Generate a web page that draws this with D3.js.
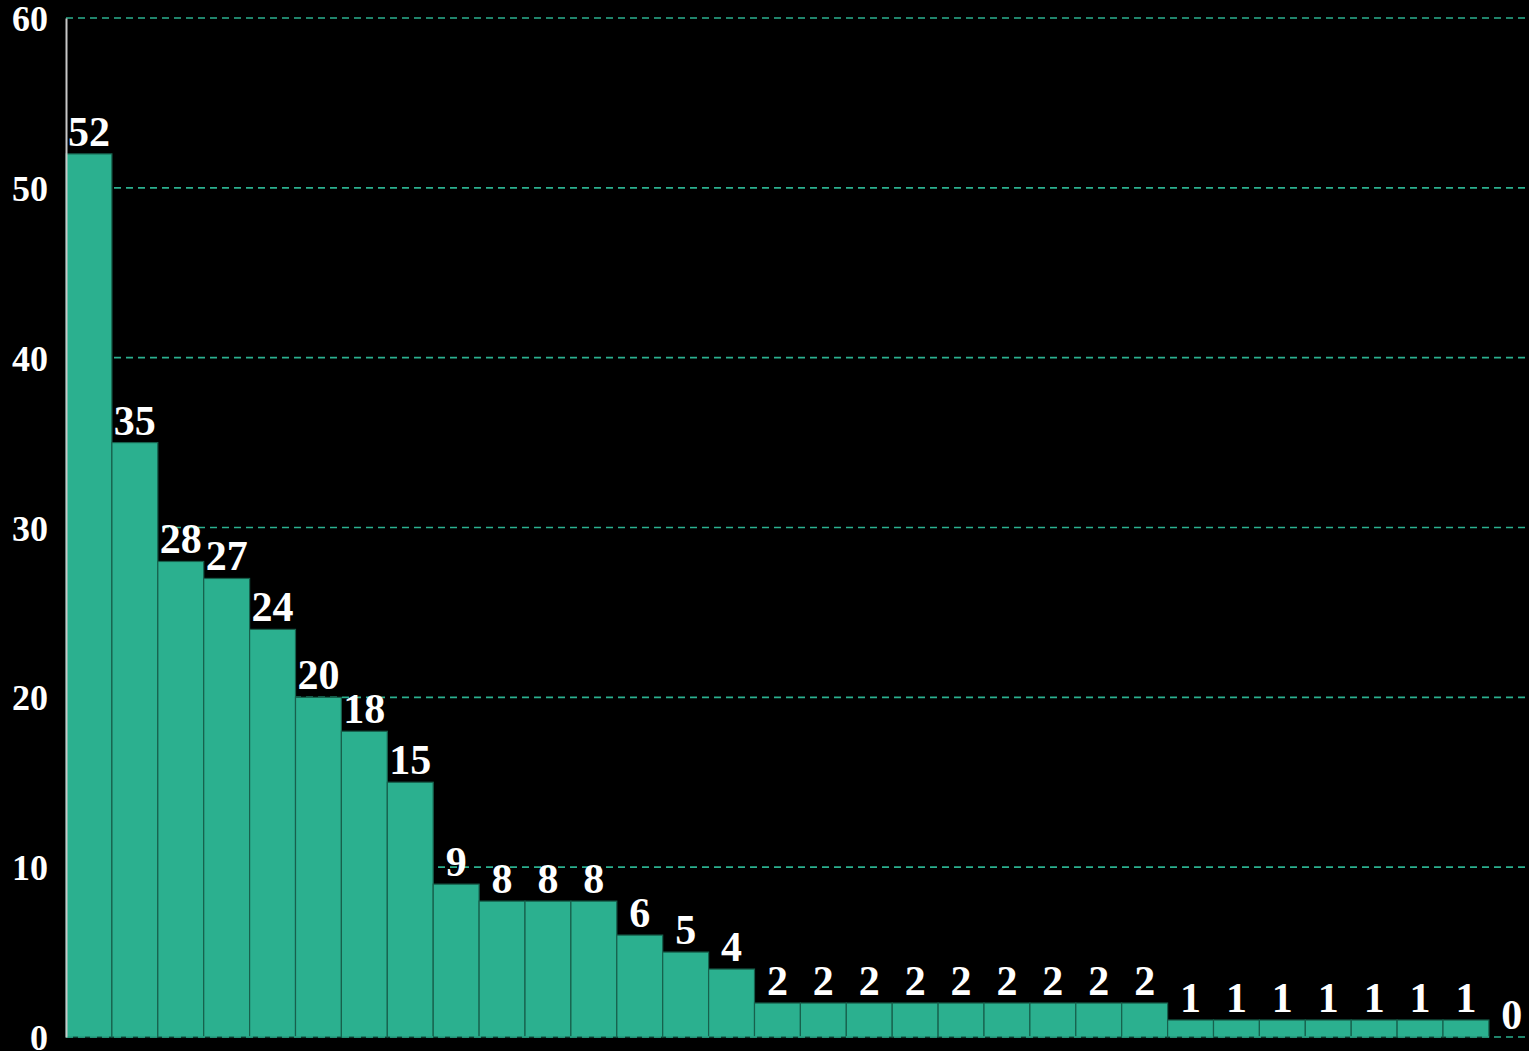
<!DOCTYPE html>
<html><head><meta charset="utf-8">
<script src="https://cdn.jsdelivr.net/npm/d3@7"></script>
<style>html,body{margin:0;padding:0;background:#000;overflow:hidden;}</style>
</head><body>
<svg id="c" width="1529" height="1051"></svg>
<script>
const values = [52,35,28,27,24,20,18,15,9,8,8,8,6,5,4,2,2,2,2,2,2,2,2,2,1,1,1,1,1,1,1,0];
const categories = values.map((d,i)=>"c"+(i+1));
const yTicks = [0,10,20,30,40,50,60];

const svg = d3.select("#c");
svg.append("rect").attr("width",1529).attr("height",1051).attr("fill","#000");
const x0 = 66, bw = 45.9;
const x = d3.scaleBand().domain(categories).range([x0, x0 + bw*categories.length]).padding(0);
const y = d3.scaleLinear().domain([0,60]).range([1037,18]);
const font = "'Liberation Serif','Times New Roman',serif";

svg.append("g").selectAll("line").data(yTicks.filter(t=>t>0)).join("line")
  .attr("x1",x0).attr("x2",1529).attr("y1",d=>y(d)).attr("y2",d=>y(d))
  .attr("stroke","#2bb08f").attr("stroke-width",1.6).attr("stroke-dasharray","7,5");

svg.append("g").selectAll("rect").data(values).join("rect")
  .attr("x",(d,i)=>x(categories[i])).attr("width",x.bandwidth())
  .attr("y",d=>y(d)).attr("height",d=>y(0)-y(d))
  .attr("fill","#2bb08f").attr("stroke","#17604c").attr("stroke-width",1.2);

svg.append("line").attr("x1",x0).attr("x2",1529).attr("y1",y(0)).attr("y2",y(0))
  .attr("stroke","#2bb08f").attr("stroke-width",1.6).attr("stroke-dasharray","7,5");

const axis = d3.axisLeft(y).tickValues(yTicks).tickSize(0).tickPadding(18).tickFormat(d3.format("d"));
const ga = svg.append("g").attr("transform",`translate(${x0},0)`).call(axis);
ga.select(".domain").attr("stroke","#c8c8c8").attr("stroke-width",2);
ga.selectAll("text").attr("fill","#fff").attr("font-family",font).attr("font-weight","bold")
  .attr("font-size",36).attr("dy","0.35em");

svg.append("g").selectAll("text").data(values).join("text")
  .attr("x",(d,i)=>x(categories[i])+x.bandwidth()/2).attr("y",d=>y(d)-8)
  .attr("text-anchor","middle").attr("fill","#fff").attr("font-family",font)
  .attr("font-weight","bold").attr("font-size",42).text(d=>d);
</script>
</body></html>
